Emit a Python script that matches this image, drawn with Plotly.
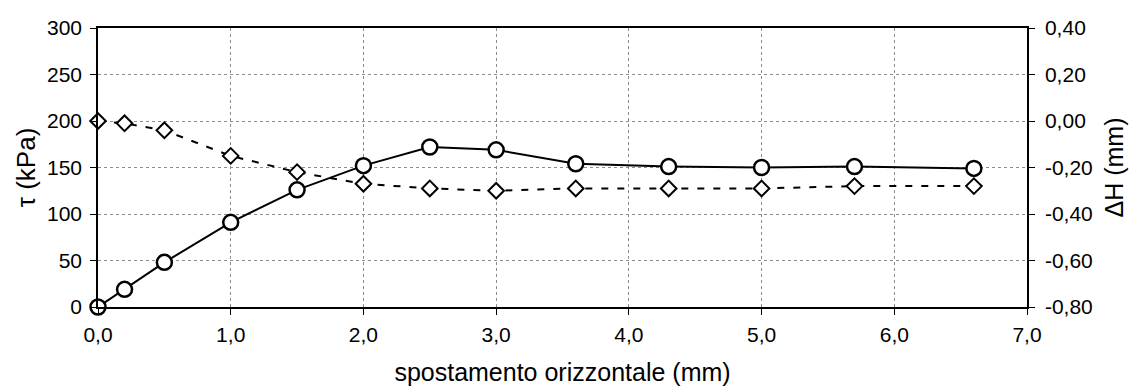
import plotly.graph_objects as go

# Data
x_tau = [0.0, 0.2, 0.5, 1.0, 1.5, 2.0, 2.5, 3.0, 3.6, 4.3, 5.0, 5.7, 6.6]
tau = [0, 19, 48, 91, 126, 152, 172, 169, 154, 151, 150, 151, 149]

x_dh = [0.0, 0.2, 0.5, 1.0, 1.5, 2.0, 2.5, 3.0, 3.6, 4.3, 5.0, 5.7, 6.6]
dh = [0.00, -0.01, -0.04, -0.15, -0.22, -0.27, -0.29, -0.30, -0.29, -0.29, -0.29, -0.28, -0.28]

x_ticks = [0, 1, 2, 3, 4, 5, 6, 7]
x_ticktext = ["0,0", "1,0", "2,0", "3,0", "4,0", "5,0", "6,0", "7,0"]
y_ticks = [0, 50, 100, 150, 200, 250, 300]
y2_ticks = [-0.8, -0.6, -0.4, -0.2, 0.0, 0.2, 0.4]
y2_ticktext = ["-0,80", "-0,60", "-0,40", "-0,20", "0,00", "0,20", "0,40"]

FONT = "Liberation Sans, Arial, sans-serif"

fig = go.Figure()

fig.add_trace(go.Scatter(
    x=x_tau, y=tau, mode="lines+markers", yaxis="y",
    line=dict(color="black", width=2),
    marker=dict(symbol="circle", size=15, color="white",
                line=dict(color="black", width=2.5)),
    cliponaxis=False, showlegend=False,
))

fig.add_trace(go.Scatter(
    x=x_dh, y=dh, mode="lines+markers", yaxis="y2",
    line=dict(color="black", width=2, dash="7px,9px"),
    marker=dict(symbol="diamond", size=12, color="white",
                line=dict(color="black", width=2)),
    cliponaxis=False, showlegend=False,
))

grid = dict(showgrid=True, gridcolor="#8c8c8c", gridwidth=1, griddash="dot")

fig.update_layout(
    width=1132, height=391,
    margin=dict(l=98, r=105, t=28, b=84, autoexpand=False),
    paper_bgcolor="white", plot_bgcolor="white",
    font=dict(family=FONT, color="black", size=21),
    xaxis=dict(
        range=[0, 7], tickvals=x_ticks, ticktext=x_ticktext,
        showline=True, linecolor="black", linewidth=1.5, mirror=True,
        ticks="outside", ticklen=6, tickcolor="black",
        ticklabelstandoff=2, zeroline=False, automargin=False,
        title=dict(text="spostamento orizzontale (mm)", font=dict(size=25), standoff=19),
        **grid,
    ),
    yaxis=dict(
        range=[0, 300], tickvals=y_ticks,
        showline=True, linecolor="black", linewidth=1.5,
        ticks="outside", ticklen=6, tickcolor="black", zeroline=False,
        ticklabelstandoff=4, automargin=False,
        title=dict(text="τ (kPa)", font=dict(size=26), standoff=4),
        **grid,
    ),
    yaxis2=dict(
        range=[-0.8, 0.4], tickvals=y2_ticks, ticktext=y2_ticktext,
        overlaying="y", side="right", showgrid=False, zeroline=False,
        showline=True, linecolor="black", linewidth=1.5,
        ticks="outside", ticklen=6, tickcolor="black",
        ticklabelstandoff=6, automargin=False,
        title=dict(text="ΔH (mm)", font=dict(size=25), standoff=14),
    ),
)

fig.write_html("out.html")
